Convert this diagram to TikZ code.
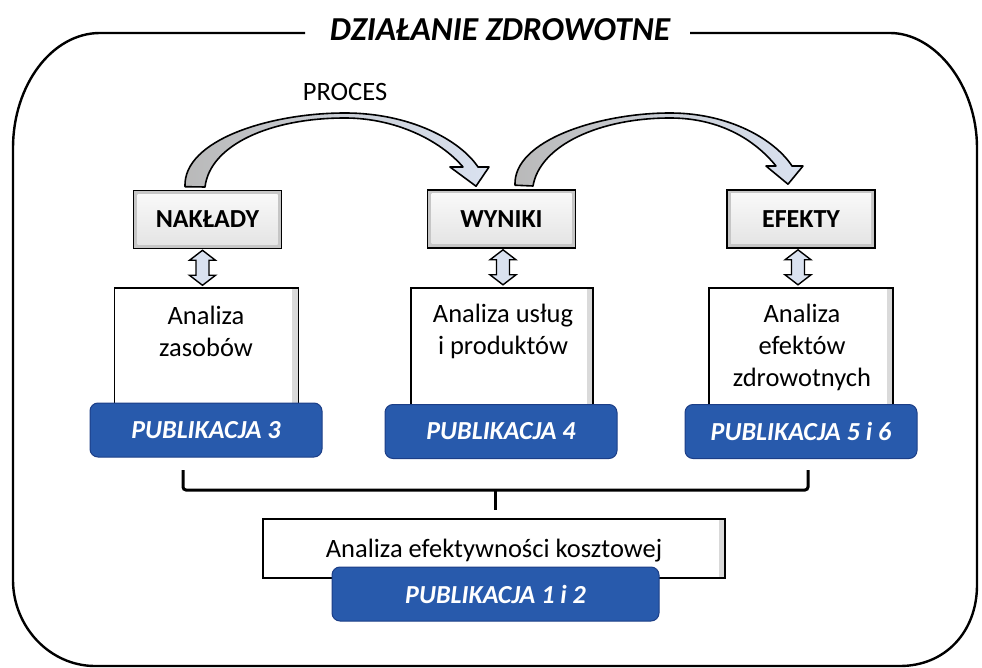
\documentclass[tikz,border=0pt]{standalone}
\usepackage{fontspec}
\setmainfont{Carlito}
\usetikzlibrary{calc}
\definecolor{pubblue}{RGB}{40,90,172}
\definecolor{pubedge}{RGB}{28,62,135}
\definecolor{arrowblue}{RGB}{218,226,240}
\begin{document}
\begin{tikzpicture}[x=1pt,y=-1pt,
  lbl/.style={draw=black, line width=1.6pt, minimum width=148pt, minimum height=58pt, inner sep=0pt,
    font=\fontsize{26}{30}\selectfont\bfseries, fill=gray!45,
    path picture={\shade[top color=gray!4, bottom color=gray!22]
      ([shift={(4pt,-4pt)}]path picture bounding box.north west) rectangle
      ([shift={(-4pt,4pt)}]path picture bounding box.south east);}},
  anabox/.style={draw=black, line width=1.6pt, fill=white, minimum width=184pt, minimum height=132pt, inner sep=0pt,
    path picture={\shade[left color=white, right color=gray!30]
      ([xshift=-6pt]path picture bounding box.north east) rectangle (path picture bounding box.south east);}},
  anatext/.style={font=\fontsize{26.5}{32}\selectfont, align=center, inner sep=0pt},
  pub/.style={draw=pubedge, line width=1pt, fill=pubblue, rounded corners=8pt, minimum width=232pt,
    minimum height=54pt, text=white, font=\fontsize{26}{30}\selectfont\bfseries\itshape, inner sep=0pt},
  dbl/.style={fill=arrowblue, draw=black, line width=1.4pt, line join=miter},
  curvarr/.style={left color=gray!55, right color=arrowblue, draw=black, line width=1.6pt, line join=round},
  frame/.style={draw=black, line width=2.4pt},
  brace/.style={draw=black, line width=3pt, rounded corners=3pt}
]
\useasboundingbox (0,0) rectangle (982,668);

% outer frame
\draw[frame] (305,33) -- (100,33) .. controls (52,33) and (13,85) .. (13,148)
  -- (13,580) .. controls (13,627) and (50,666) .. (95,666)
  -- (900,666) .. controls (945,666) and (977,632) .. (977,585)
  -- (977,148) .. controls (977,85) and (935,33) .. (890,33) -- (690,33);
\node[font=\fontsize{33.5}{38}\selectfont\bfseries\itshape] (title) at (500,30) {DZIAŁANIE ZDROWOTNE};

\node[font=\fontsize{26.5}{30}\selectfont] (proc) at (345,92) {PROCES};

% label boxes
\node[lbl] (nak) at (207.5,219.5) {NAKŁADY};
\node[lbl] (wyn) at (501.5,219) {WYNIKI};
\node[lbl] (efe) at (801,219) {EFEKTY};

% analysis boxes
\node[anabox] (ana1) at (206.5,354) {};
\node[anabox, minimum width=182pt] (ana2) at (502,354) {};
\node[anabox] (ana3) at (801,354) {};
\node[anatext] (t1) at (206,331) {Analiza\\zasobów};
\node[anatext] (t2) at (503,331) {Analiza usług\\i produktów};
\node[anatext] (t3) at (802,347) {Analiza\\efektów\\zdrowotnych};

% publication boxes
\node[pub] (p3) at (206,430) {PUBLIKACJA 3};
\node[pub] (p4) at (501,431.5) {PUBLIKACJA 4};
\node[pub] (p56) at (801,431.5) {PUBLIKACJA 5 i 6};

% curved arrows
\coordinate (a1s) at ($(nak.north)+(-22.5,-3)$);
\coordinate (a1t) at ($(wyn.north)+(-25.5,-3)$);
\path[curvarr] (a1s) .. controls (183,140) and (270,113) .. (345,113)
  .. controls (410,113) and (460,140) .. (478,167) -- (489,167) -- (a1t) -- (450,167) -- (463,167)
  .. controls (440,140) and (395,118) .. (345,118)
  .. controls (270,118) and (210,145) .. (205,187) -- cycle;
\coordinate (a2s) at ($(wyn.north)+(13.5,-4)$);
\coordinate (a2t) at ($(efe.north)+(-13,-5)$);
\path[curvarr] (a2s) .. controls (513,140) and (600,113) .. (670,113)
  .. controls (730,113) and (775,140) .. (792,166) -- (803,166) -- (a2t) -- (766,166) -- (776,166)
  .. controls (755,140) and (720,118) .. (670,118)
  .. controls (600,118) and (540,145) .. (533,186) -- cycle;

% double arrows
\draw[dbl] ($(nak.south)+(-5,1)$) -- ++(13,10) -- ++(-6.5,0) -- ++(0,15) -- ++(6.5,0) -- ++(-13,10)
  -- ++(-13,-10) -- ++(6.5,0) -- ++(0,-15) -- ++(-6.5,0) -- cycle;
\draw[dbl] ($(wyn.south)+(1.5,1)$) -- ++(13,10) -- ++(-6.5,0) -- ++(0,15) -- ++(6.5,0) -- ++(-13,10)
  -- ++(-13,-10) -- ++(6.5,0) -- ++(0,-15) -- ++(-6.5,0) -- cycle;
\draw[dbl] ($(efe.south)+(-3,1)$) -- ++(13,10) -- ++(-6.5,0) -- ++(0,15) -- ++(6.5,0) -- ++(-13,10)
  -- ++(-13,-10) -- ++(6.5,0) -- ++(0,-15) -- ++(-6.5,0) -- cycle;

% brace
\coordinate (bl) at (183,470);
\coordinate (br) at (808,470);
\coordinate (bm) at (495,490);
\coordinate (bs) at (495,510);
\draw[brace] (bl) -- (183,490) -- (808,490) -- (br);
\draw[brace, rounded corners=0pt] (bm) -- (bs);

% bottom box
\node[draw=black, line width=1.6pt, fill=white, minimum width=462pt, minimum height=59pt, inner sep=0pt,
  path picture={\shade[left color=white, right color=gray!30]
      ([xshift=-6pt]path picture bounding box.north east) rectangle (path picture bounding box.south east);}]
  (cea) at (494,548.5) {};
\node[anatext] (tcea) at (494,551) {Analiza efektywności kosztowej};
\node[pub, minimum width=327pt] (p12) at (495.5,594) {PUBLIKACJA 1 i 2};
\end{tikzpicture}
\end{document}
